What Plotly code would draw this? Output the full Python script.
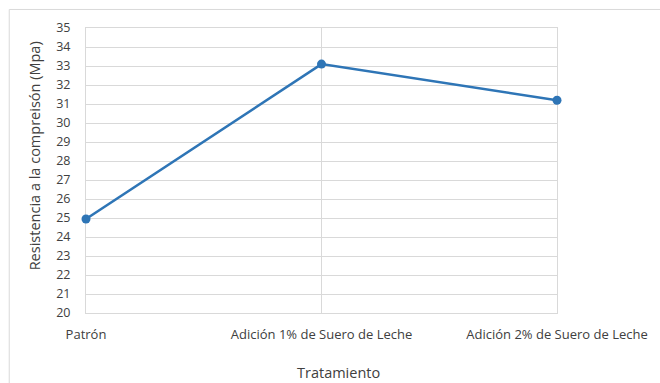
import plotly.graph_objects as go

categories = ["Patrón", "Adición 1% de Suero de Leche", "Adición 2% de Suero de Leche"]
values = [24.95, 33.1, 31.2]
y_ticks = list(range(20, 36))

font_family = "Open Sans, Noto Sans, sans-serif"
text_color = "#404040"
grid_color = "#D9D9D9"
line_color = "#2E75B6"

fig = go.Figure()
fig.add_trace(go.Scatter(
    x=categories, y=values, mode="lines+markers",
    line=dict(color=line_color, width=2.5),
    marker=dict(color=line_color, size=9),
    showlegend=False, cliponaxis=False,
))

fig.update_layout(
    width=660, height=383,
    margin=dict(l=86, r=100, t=28, b=70),
    paper_bgcolor="white", plot_bgcolor="white",
    font=dict(family=font_family, size=12, color=text_color),
    xaxis=dict(
        type="category", range=[0, 2], showgrid=True, gridcolor=grid_color,
        gridwidth=1, showline=True, linecolor=grid_color, mirror=True,
        zeroline=False, ticks="", ticklabelstandoff=9, layer="below traces",
        tickfont=dict(family=font_family, size=13, color=text_color),
    ),
    yaxis=dict(
        range=[20, 35], tickvals=y_ticks, showgrid=True, gridcolor=grid_color,
        gridwidth=1, zeroline=False, showline=True, linecolor=grid_color,
        mirror=True, ticks="", ticklabelstandoff=12, layer="below traces",
        tickfont=dict(family=font_family, size=12.5, color=text_color),
    ),
    shapes=[dict(type="rect", xref="paper", yref="paper",
                 x0=-0.163, x1=1.3, y0=-0.45, y1=1.065,
                 line=dict(color="#D9D9D9", width=1), layer="below")],
    annotations=[
        dict(text="Tratamiento", xref="paper", yref="paper",
             x=(340 - 86) / 474, y=-(372 - 313) / 285, showarrow=False,
             font=dict(family=font_family, size=14.5, color=text_color),
             xanchor="center", yanchor="middle"),
        dict(text="Resistencia a la compreisón (Mpa)", xref="paper", yref="paper",
             x=-(86 - 34) / 474, y=(313 - 156) / 285, showarrow=False, textangle=-90,
             font=dict(family=font_family, size=14.5, color=text_color),
             xanchor="center", yanchor="middle"),
    ],
)

fig.write_html("out.html")
